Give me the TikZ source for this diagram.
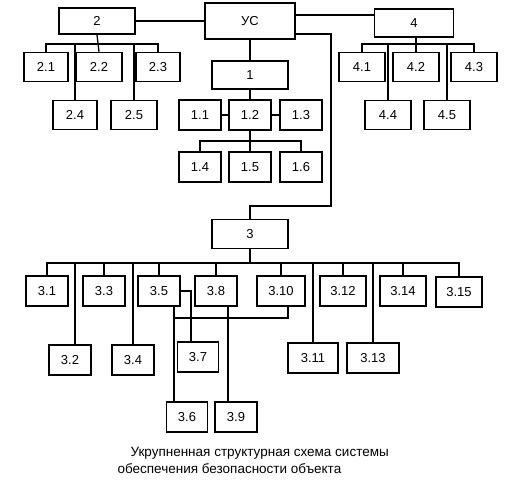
\documentclass[tikz,border=0pt]{standalone}
\usepackage{fontspec}
\setmainfont{Liberation Sans}
\usepackage{tikz}

\begin{document}
\begin{tikzpicture}[
    x=1pt,y=-1pt,
    box/.style={draw=black, line width=1.4pt, minimum width=44pt, minimum height=29pt, inner sep=1pt, align=center, font=\fontsize{13}{15}\selectfont},
    bigbox/.style={box, minimum width=76pt, minimum height=28pt},
    link/.style={draw=black, line width=1.3pt}
  ]
    \useasboundingbox (0,0) rectangle (524,492);

    \node[box, minimum width=90pt, minimum height=36pt] (us) at (250,21) {УС};
    \node[bigbox, minimum height=26pt] (n2) at (97,21) {2};
    \node[bigbox, minimum width=79pt] (n4) at (414,23) {4};
    \node[bigbox] (n1) at (250,75) {1};
    \node[bigbox, minimum height=29pt] (n3) at (250,234) {3};

    \node[box] (n21) at (46,67) {2.1};
    \node[box, minimum width=46pt] (n22) at (99,67) {2.2};
    \node[box] (n23) at (158,67) {2.3};
    \node[box] (n24) at (75,115) {2.4};
    \node[box, minimum width=46pt] (n25) at (134,115) {2.5};

    \node[box, minimum width=46pt] (n41) at (362,67) {4.1};
    \node[box, minimum width=46pt] (n42) at (416,67) {4.2};
    \node[box, minimum width=46pt] (n43) at (474,67) {4.3};
    \node[box, minimum width=46pt] (n44) at (388,115) {4.4};
    \node[box, minimum width=46pt] (n45) at (447,115) {4.5};

    \node[box, minimum width=42pt, minimum height=30pt] (n11) at (200,115) {1.1};
    \node[box, minimum width=42pt, minimum height=30pt] (n12) at (250,115) {1.2};
    \node[box, minimum width=42pt, minimum height=30pt] (n13) at (301,115) {1.3};
    \node[box, minimum width=42pt, minimum height=30pt] (n14) at (200,167) {1.4};
    \node[box, minimum width=42pt, minimum height=30pt] (n15) at (250,167) {1.5};
    \node[box, minimum width=42pt, minimum height=30pt] (n16) at (301,167) {1.6};

    \node[box, minimum width=42pt, minimum height=30pt] (n31) at (47,291) {3.1};
    \node[box, minimum width=42pt, minimum height=30pt] (n33) at (104,291) {3.3};
    \node[box, minimum width=42pt, minimum height=30pt] (n35) at (159,291) {3.5};
    \node[box, minimum width=42pt, minimum height=30pt] (n38) at (216,291) {3.8};
    \node[box, minimum width=48pt, minimum height=30pt] (n310) at (281,291) {3.10};
    \node[box, minimum width=46pt, minimum height=30pt] (n312) at (343,291) {3.12};
    \node[box, minimum width=46pt, minimum height=30pt] (n314) at (403,291) {3.14};
    \node[box, minimum width=46pt, minimum height=30pt] (n315) at (459,292) {3.15};

    \node[box, minimum width=42pt, minimum height=30pt] (n32) at (70,360) {3.2};
    \node[box, minimum width=42pt, minimum height=30pt] (n34) at (133,360) {3.4};
    \node[box, minimum width=41pt, minimum height=30pt] (n37) at (198,357) {3.7};
    \node[box, minimum width=50pt, minimum height=30pt] (n311) at (313,358) {3.11};
    \node[box, minimum width=52pt, minimum height=30pt] (n313) at (373,358) {3.13};
    \node[box, minimum width=41pt, minimum height=30pt] (n36) at (187,417) {3.6};
    \node[box, minimum width=42pt, minimum height=30pt] (n39) at (236,417) {3.9};

    \node[anchor=north west, align=left, font=\fontsize{13.5}{16.5}\selectfont] (cap) at (114,444)
      {\hspace{13pt}Укрупненная структурная схема системы\\обеспечения безопасности объекта};

    % bus levels and bends
    \coordinate (k2) at (0,44);
    \coordinate (k1) at (0,141);
    \coordinate (k3) at (0,263);
    \coordinate (r) at (331,206);
    \coordinate (j) at (174,318);

    \draw[link] (n2) -- (us);
    \draw[link] ([yshift=6pt]us.east) -- ([yshift=6pt]us.east -| n4.west);
    \draw[link] ([yshift=-13pt]us.east) -| (r) -| (n3.north);
    \draw[link] (us) -- (n1);

    \draw[link] (n1) -- (n12);
    \draw[link] (n11) -- (n12);
    \draw[link] (n12) -- (n13);
    \draw[link] (n12) -- (n15);
    \draw[link] (n14.north) |- (k1 -| n16.north) -- (n16.north);

    \draw[link] (n21.north) |- (k2 -| n23.north) -- (n23.north);
    \draw[link] (n2.south) -- (n22.north);
    \draw[link] (n24.north) -- (n24.north |- k2);
    \draw[link] (n25.north) -- (n25.north |- k2);

    \draw[link] (n41.north) |- (k2 -| n43.north) -- (n43.north);
    \draw[link] (n4.south -| n42.north) -- (n42.north);
    \draw[link] (n44.north) -- (n44.north |- k2);
    \draw[link] (n45.north) -- (n45.north |- k2);

    \draw[link] (n31.north) |- (k3 -| n315.north) -- (n315.north);
    \draw[link] (n3) -- (n3 |- k3);
    \draw[link] ([xshift=5pt]n32.north) -- ([xshift=5pt]n32.north |- k3);
    \draw[link] (n33.north) -- (n33.north |- k3);
    \draw[link] (n34.north) -- (n34.north |- k3);
    \draw[link] (n35.north) -- (n35.north |- k3);
    \draw[link] (n38.north) -- (n38.north |- k3);
    \draw[link] (n310.north) -- (n310.north |- k3);
    \draw[link] (n311.north) -- (n311.north |- k3);
    \draw[link] (n312.north) -- (n312.north |- k3);
    \draw[link] (n313.north) -- (n313.north |- k3);
    \draw[link] (n314.north) -- (n314.north |- k3);

    \draw[link] (n35.east) -| ([xshift=-7pt]n37.north);
    \draw[link] ([xshift=15pt]n35.south) -- ([xshift=15pt]n35.south |- n36.north);
    \draw[link] ([xshift=12pt]n38.south) -- ([xshift=12pt]n38.south |- n39.north);
    \draw[link] ([xshift=7pt]n310.south) |- (j);
  \end{tikzpicture}
\end{document}
